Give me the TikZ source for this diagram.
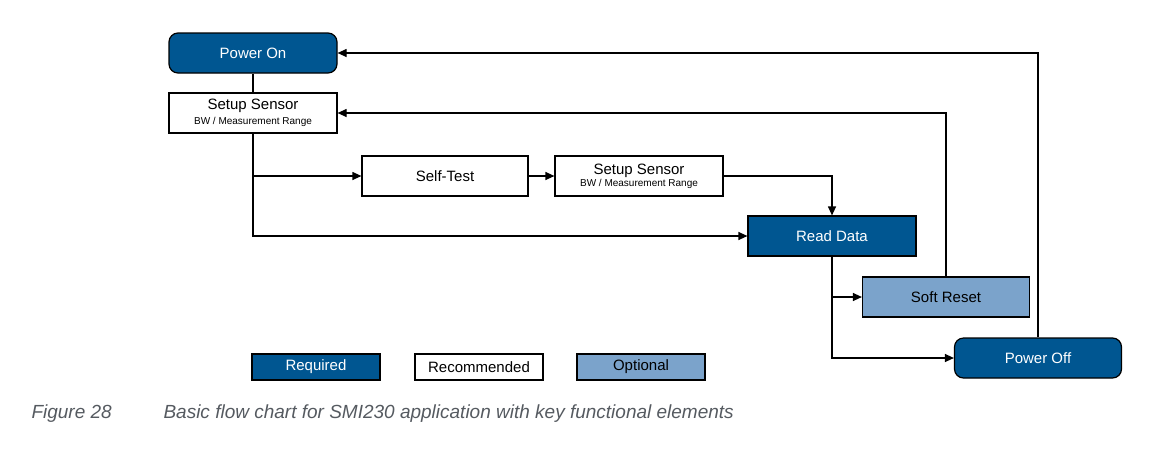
\documentclass[tikz,border=0pt]{standalone}
\usepackage{fontspec}
\setmainfont{Liberation Sans}
\usetikzlibrary{arrows.meta}
\definecolor{dblue}{HTML}{005691}
\definecolor{lblue}{HTML}{7BA3CB}
\definecolor{capgray}{HTML}{555A60}
\begin{document}
\begin{tikzpicture}[x=1pt,y=-1pt,
  box/.style={draw=black,line width=1.2pt,minimum width=168pt,minimum height=40pt,inner sep=0pt,font=\fontsize{15}{17}\selectfont},
  req/.style={box,fill=dblue,text=white},
  reqr/.style={req,rounded corners=9pt},
  rec/.style={box,fill=white},
  opt/.style={box,fill=lblue},
  leg/.style={draw=black,line width=1.2pt,minimum width=128pt,minimum height=26pt,inner sep=0pt,font=\fontsize{15}{17}\selectfont},
  conn/.style={line width=1.2pt,-{Triangle[length=9pt,width=8pt]}},
  plain/.style={line width=1.2pt}]
\useasboundingbox (0,0) rectangle (1154,459);
\node[reqr] (pon) at (253,53) {Power On};
\node[rec,align=center] (ss1) at (253,113) {Setup Sensor\\[-2pt]{\fontsize{10}{12}\selectfont BW / Measurement Range}};
\node[rec,minimum width=166pt] (st) at (445,176) {Self-Test};
\node[rec] (ss2) at (639,176) {\shortstack{Setup Sensor\\[-1pt]{\fontsize{10}{12}\selectfont BW / Measurement Range}}};
\node[req] (rd) at (832,236) {Read Data};
\node[opt,minimum width=167pt] (sr) at (946,297) {Soft Reset};
\node[reqr,minimum width=167pt] (poff) at (1038,358) {Power Off};
\node[leg,fill=dblue,text=white] (l1) at (316,367) {Required};
\node[leg,fill=white] (l2) at (479,367) {Recommended};
\node[leg,fill=lblue] (l3) at (641,367) {Optional};
\node[anchor=west,text=capgray,font=\fontsize{19}{22}\selectfont\itshape] (cap1) at (28,414) {Figure 28};
\node[anchor=west,text=capgray,font=\fontsize{19}{22}\selectfont\itshape] (cap2) at (160,414) {Basic flow chart for SMI230 application with key functional elements};
\coordinate (b1) at (253,176);
\draw[plain] (pon.south) -- (ss1.north);
\draw[conn] (ss1.south) |- (rd.west);
\draw[conn] (b1) -- (st.west);
\draw[conn] (st.east) -- (ss2.east -| st.east) -- (ss2.west);
\draw[conn] (ss2.east) -| (rd.north);
\coordinate (b2) at (832,297);
\draw[conn] (rd.south) |- (poff.west);
\draw[conn] (b2) -- (sr.west);
\draw[conn] (sr.north) |- (ss1.east);
\draw[conn] (poff.north) |- (pon.east);
\end{tikzpicture}
\end{document}
